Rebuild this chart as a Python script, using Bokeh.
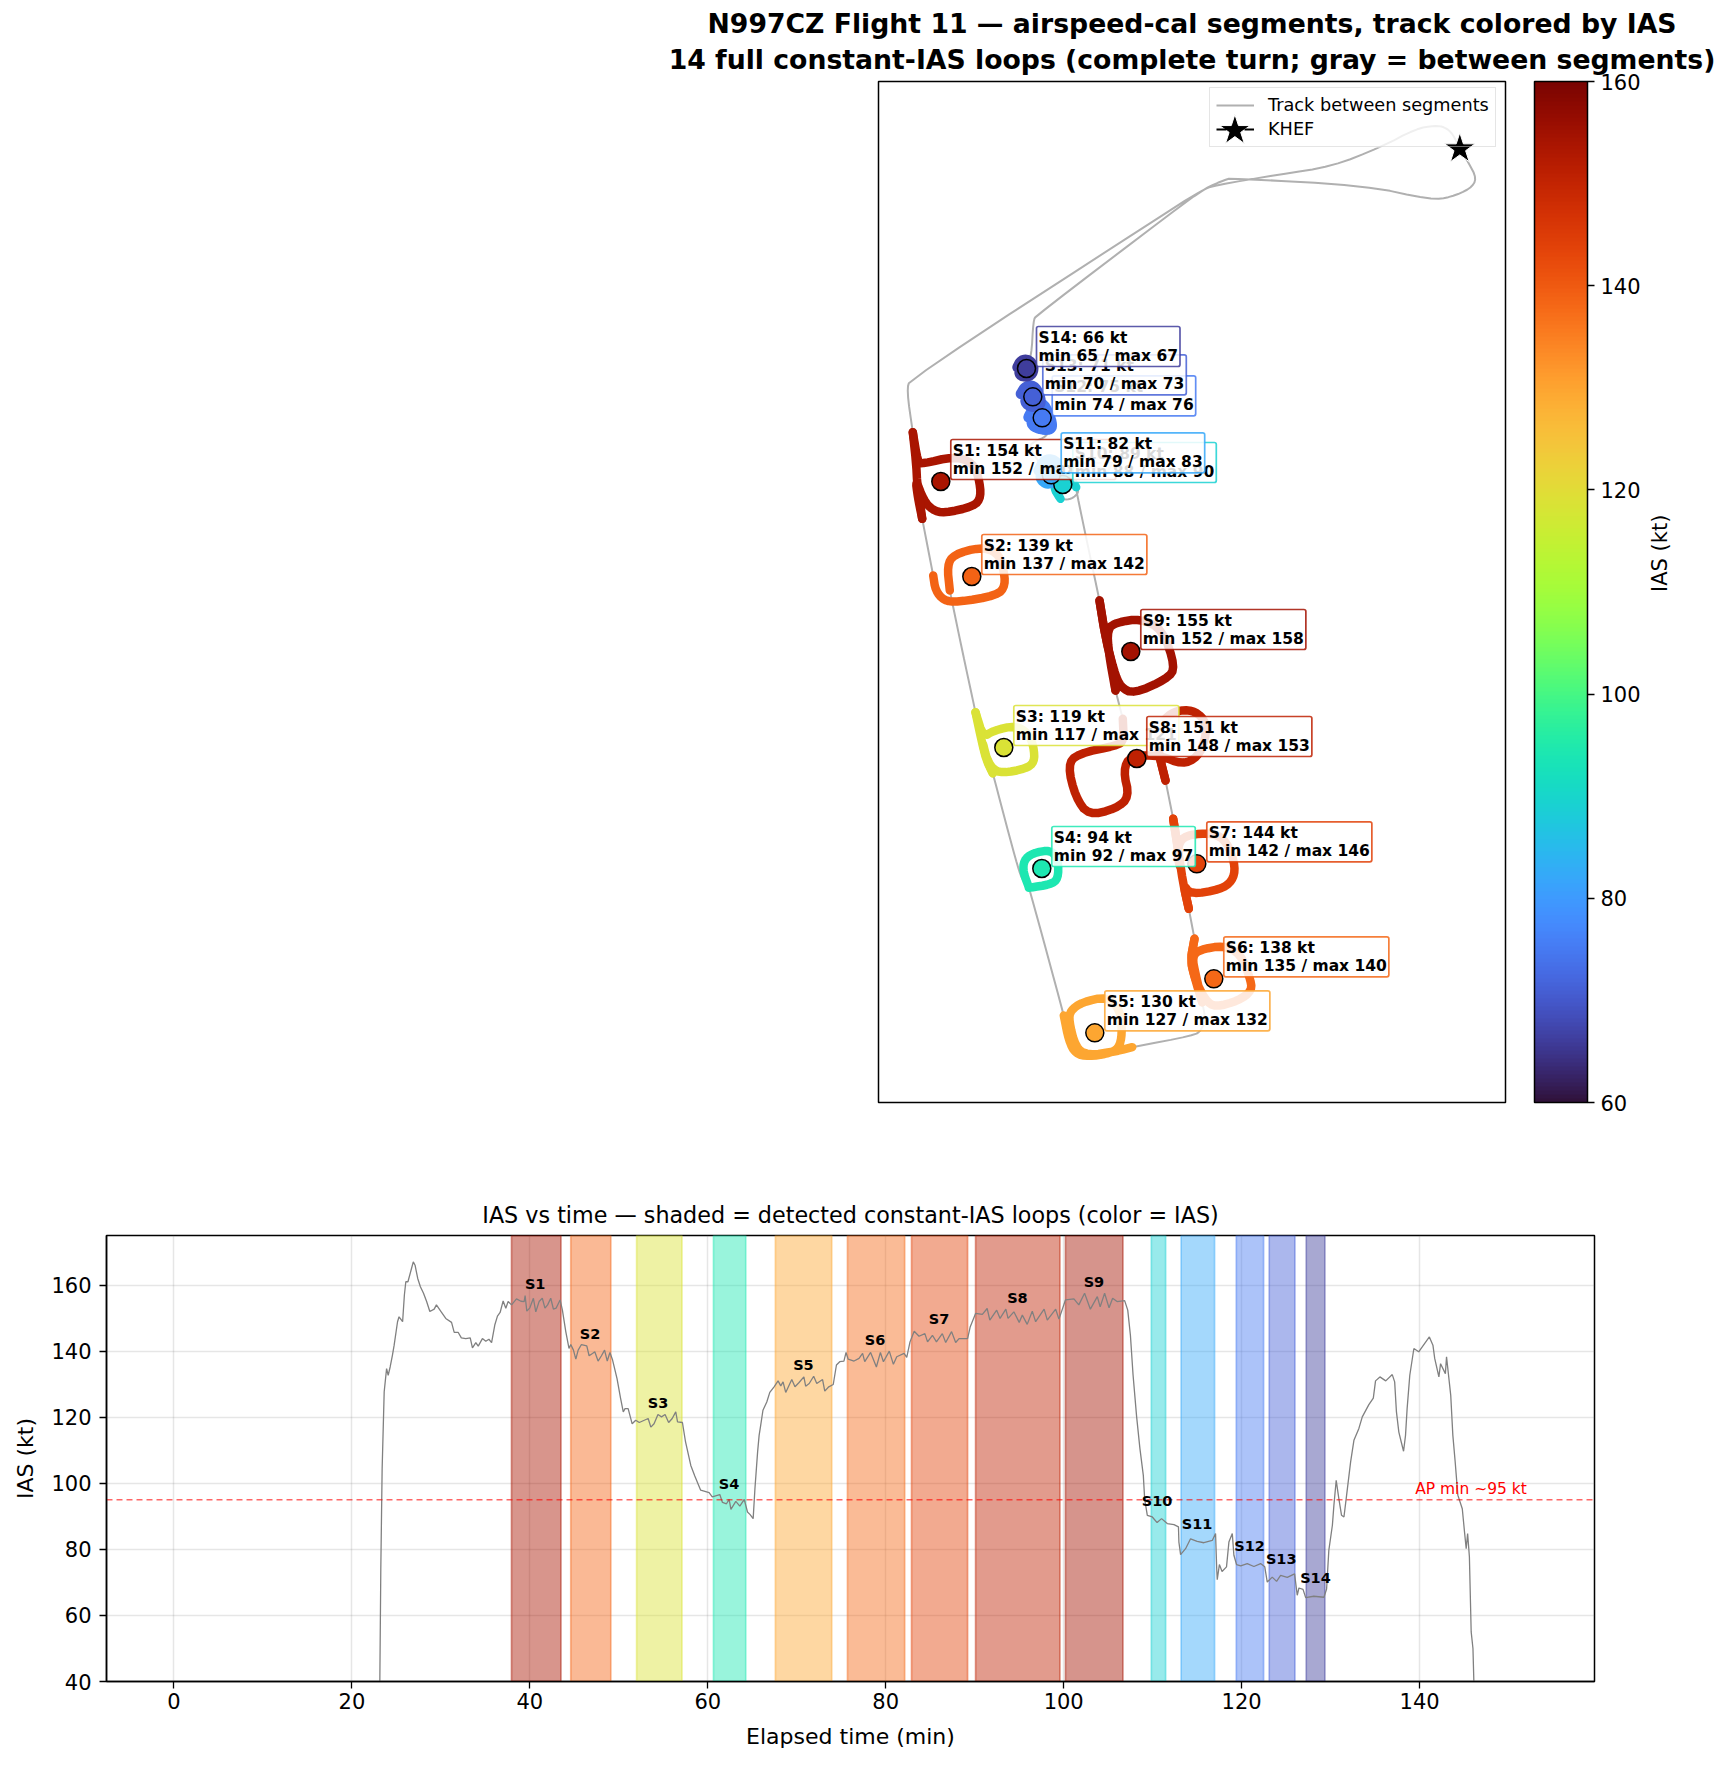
import math
from bokeh.plotting import figure
from bokeh.layouts import column
from bokeh.models import (Range1d, Label, Legend, LegendItem, ColorBar, LinearColorMapper,
                          FixedTicker, Title, LinearAxis)
from bokeh.core.properties import value
from bokeh.palettes import Turbo256
from bokeh.embed import file_html
from bokeh.resources import INLINE

FONT = "DejaVu Sans"

# ---- segment summary ----
seg_names = ["S1","S2","S3","S4","S5","S6","S7","S8","S9","S10","S11","S12","S13","S14"]
seg_mean = [154,139,119,94,130,138,144,151,155,89,82,75,71,66]
seg_min  = [152,137,117,92,127,135,142,148,152,88,79,74,70,65]
seg_max  = [157,142,121,97,132,140,146,153,158,90,83,76,73,67]
seg_start = [37.94,44.6,52.0,60.64,67.6,75.7,82.9,90.1,100.2,109.85,113.2,119.4,123.1,127.26]
seg_end   = [43.5,49.1,57.1,64.27,73.93,82.13,89.2,99.58,106.66,111.46,116.96,122.47,125.99,129.36]
seg_label_t = [40.6,46.77,54.4,62.4,70.75,78.8,86.0,94.8,103.4,110.5,115.0,120.9,124.45,128.3]
seg_label_kt = [158.5,143.3,122.6,97.9,133.9,141.5,148.0,154.4,159.0,92.8,86.0,79.2,75.2,69.6]
marker_x = [62.3,93.3,125.3,163.3,216.3,335.3,318.3,258.3,252.3,184.3,172.7,163.7,154.3,148.0]
marker_y = [621,526,355,234,69.7,123.7,238.7,344,451,618,627.7,684.7,705.7,734]

# ---- loop tracks (local x/y track coordinates) ----
s1 = [(34.3,670.3),(39.3,640.3),(43.7,638.7),(75.3,646),(93.7,640.3),(100.3,625.3),(102.7,605.3),(95.3,596),(65.3,589.3),(53.7,592.7),(45.3,602),(37,623.7),(39.3,605.3),(43.7,583.7)]
s2 = [(54.7,527),(57,512),(65.3,502),(78.7,500.3),(118.7,507),(127,517),(124.7,535.3),(118.7,550.3),(102,555.3),(75.3,548),(68.7,537),(71.3,512)]
s3 = [(97,390.3),(104.7,365.3),(115.3,372),(137,377),(150.3,368.7),(155.3,355.3),(156,340.3),(147,333.7),(123.7,329.3),(113.7,333.7),(107,347),(103.7,362),(108.7,342),(114.3,329.3)]
s4 = [(150.3,215.3),(144.7,230.3),(145.3,242),(153.7,249.3),(172.7,252.7),(179.7,242),(179.7,223.7),(172,218),(150.3,214.7)]
s5 = [(185.3,87),(190.3,62),(197,48.7),(210.3,46),(228.7,48.7),(240.3,53.7),(243.7,68.7),(242,92),(228.7,106),(203.7,100.3),(192,92),(190.3,82),(197,55.3),(208.7,47),(238.7,51.3),(253.7,55.3)]
s6 = [(323.7,100.3),(317,128.7),(313.7,145.3),(320.3,152.7),(345.3,157),(362,148.7),(371.3,125.3),(373.7,112),(360.3,102),(337,95.3),(327,102),(317,122),(312,142),(316,163.7)]
s7 = [(310.3,193.7),(304.7,218.7),(312,208),(342,213),(353.7,221.3),(357,235.3),(350.3,257),(338.7,268.7),(315.3,268.7),(302,263.7),(298.7,248.7),(302,232),(298.7,258.7),(294.7,283.7)]
s8 = [(287,322),(280.3,348.7),(278.7,372),(288.7,387),(302,392.7),(317,391.3),(327.7,380.3),(327,363.7),(319.3,345.3),(303.7,338),(282,347),(252,347),(244.7,332),(251,305.3),(237,293.7),(210.3,287),(197,305.3),(189.3,337),(198.7,348.7),(238.7,357),(245.3,362),(244.3,383.7)]
s9 = [(237,412),(230.3,448.7),(228.7,473.7),(238.7,480.3),(262,483.7),(283.7,473.7),(297,435.3),(288.7,423.7),(255.3,408.7),(242,415.3),(235.3,432),(227,465.3),(221,502)]
s10 = [(197.7,615.3),(190.3,627),(180.3,627),(174.7,615.3),(182,603.7)]
s11 = [(160.3,632),(166,642.7),(176,642.7),(182,633.7),(178,622.7),(168.7,618),(161.3,624.7),(165.3,633.7),(172,637),(176,630.3),(170.3,624.7),(168,630.3)]
s12 = [(150.3,685.3),(155.3,695.3),(163.7,700.3),(170.3,688.7),(173.7,677),(171.3,672.7),(160.3,673.7),(152,678.7),(157,688.7),(165.3,688.7),(167,680.3),(160.3,680.3)]
s13 = [(142.7,708.7),(147,716),(155.3,717),(161.3,707),(162,697),(153.7,695.3),(146,700.3),(150.3,708.7),(157,707),(153.7,701.3)]
s14 = [(139.3,735.3),(142.7,742),(150.3,742.7),(155.3,735.3),(152.7,727),(143.7,726),(140.3,730.3),(147,735.3)]
loops = [s1,s2,s3,s4,s5,s6,s7,s8,s9,s10,s11,s12,s13,s14]

# straight legs through the loops, by index into seg_names
spine_seg = [0, 2, 5, 6, 7, 8]
spine_paths = [
 [(34.3,670.3),(37.7,638.7),(38.7,618.7),(41.3,602),(43.7,583.7)],
 [(97,390.3),(103,362),(108,342),(114.3,329.3)],
 [(316,163.7),(312,142),(317,122),(323.7,100.3)],
 [(294.7,283.7),(300,250),(304.7,218.7),(310.3,193.7)],
 [(287,322),(280.3,348.7)],
 [(221,502),(227,465),(235,432),(237,412)],
]

# ---- gray track between segments ----
gray_pieces = [
 [(581.3,953.7),(574.3,968.7),(566.5,975.3),(556.7,977),(537.3,973.7),(502.3,955.3),(453.6,936),(401,928),(335,917),(323.3,912),(296,895.3),(31.5,723.7),(28.3,712),(34.3,670.3)],
 [(43.7,583.7),(54.7,527)],
 [(71.3,512),(73.7,500.3),(83.7,452),(97,390.3)],
 [(114.3,329.3),(132,262),(141.3,228.7),(145.3,221.3),(150.3,215.3)],
 [(150.3,214.7),(151.3,212),(168.7,148.7),(185.3,87)],
 [(253.7,55.3),(315.3,67),(322.7,72),(327,83.7),(323.7,100.3)],
 [(316,163.7),(310.3,193.7)],
 [(294.7,283.7),(287,322)],
 [(244.3,383.7),(237,412)],
 [(221,502),(198.7,607),(197.7,615.3)],
 [(182,603.7),(191,602.7),(199,608),(200,614),(192,622)],
 [(168,630.3),(150,655),(155.3,661),(167,665.3),(172,673.7)],
 [(147,735.3),(152.9,745.3),(154.8,782),(157.9,787),(296,892),(327.2,914.7),(346.6,922.7),(352.5,924.3),(486.7,917),(552.9,902.7),(572.3,905.3),(591.8,913.7),(598.4,923.7),(589.8,940.3),(581.3,953.7)],
]
khef_x, khef_y = [581.3], [953.7]
legend_star_x, legend_star_y = [356.4], [972]

# ---- IAS vs time ----
elapsed_min = [23.14,23.25,23.4,23.63,23.9,24.08,24.3,24.56,24.75,25.13,25.3,25.7,25.9,26.06,26.3,26.7,26.9,27.1,27.4,27.7,28.05,28.4,28.76,29.25,29.5,30,30.55,31.2,31.5,31.94,32.3,32.8,33.3,33.55,33.93,34.2,34.67,35.05,35.4,35.7,36.06,36.36,36.66,37,37.3,37.56,37.94,38.5,39,39.36,39.47,39.66,40,40.4,40.67,41.04,41.4,41.7,42,42.35,42.65,42.95,43.4,43.66,44.04,44.4,44.6,44.9,45.17,45.43,45.8,46.4,46.66,47.04,47.3,47.67,48.05,48.4,48.7,49,49.3,49.8,50.2,50.5,50.7,51.05,51.5,51.9,52.3,53.3,53.6,53.96,54.4,54.8,55.2,55.6,56,56.4,56.6,57.15,57.5,58.09,58.54,59.2,60.15,60.5,61.35,61.65,62.1,62.4,62.6,63.15,63.6,64.1,64.46,64.76,65.1,65.3,65.6,65.77,65.95,66.2,66.63,66.97,67.45,67.9,68.2,68.46,68.76,69.44,69.8,70.26,70.8,71,71.4,71.9,72.25,72.9,73.15,73.6,74.1,74.46,74.83,75.3,75.54,75.77,76.44,77,77.4,77.64,78.3,78.95,79.4,79.74,80.4,80.86,81.24,82.06,82.36,82.73,83.2,83.74,84.4,84.7,85.25,85.7,86.36,86.74,87.4,87.86,88.24,89.2,89.5,90.1,90.86,91.4,91.7,92.47,92.85,93.5,93.75,94.4,95,95.35,95.9,96.47,96.85,97.8,98.16,99.1,99.47,100.2,101.15,101.7,102.35,103,103.78,104.1,104.6,105.1,105.5,106,106.85,107.2,107.5,107.8,108.2,108.57,108.95,109.1,109.4,109.96,110.5,111,111.64,112.4,112.9,112.95,113.14,113.7,114.26,115,115.76,116.7,117.07,117.2,117.26,117.5,117.8,118.3,118.57,118.95,119.13,119.43,119.9,120.63,121.38,122.13,122.6,122.88,123.44,123.93,124.38,125.13,125.95,126.25,126.44,126.9,127.2,128.1,129.25,129.55,129.8,130.2,130.37,130.63,130.93,131.23,131.5,131.8,132.25,132.62,133.18,133.56,134.3,134.8,135.05,135.54,136.2,136.93,137.2,137.4,137.67,137.94,138.2,138.42,138.6,138.9,139.36,139.9,140.56,141.1,141.5,141.7,142.17,142.36,142.9,143.03,143.5,143.74,144,144.3,144.8,145.05,145.24,145.4,145.6,145.8,146,146.1]
ias_kt = [40,74,104.4,127.7,134.7,132.7,135.2,138.8,141.8,148.9,150.4,148.9,157,161,161,165,167,166,162,159.5,157.5,155,152,152.7,154,152,149.9,148.7,145.7,145.7,144,143.8,144,141,142.6,141.5,143.8,143,143.6,142.6,147.9,150.6,151.7,155.2,153,155,154,155.8,155.1,155,156.8,152.1,153.1,156,151.9,155,156,153,154,156,152.7,153,155.5,152.4,145.9,140.8,142,140.3,137.6,140.3,142,141.6,138.6,139.3,139.8,137,138.6,140.3,137,139.6,137.3,131.7,125.7,121.6,122.6,122.6,118,119.1,118.4,119.6,117,118,120.8,120.1,120.8,118.4,119.6,121.6,118.6,118.4,112.5,105.4,102.2,97.9,97.2,95.9,96.6,94.2,93.8,95.1,92.1,94.5,93.1,95.1,91.3,90.5,89.3,98.4,109.5,114.5,117.6,122.1,124.6,127.5,129.2,131,129.5,130.7,127.5,131.4,129.2,130.5,132.2,129.4,130.2,132.4,130.2,131.4,127.9,129.2,129.9,135.8,136.8,137,139.6,137.6,137,137.8,139.3,136.8,139.6,135.2,139.6,136.8,140,136,138.3,139.3,138.1,142.8,146,144.5,145.3,142.8,144.8,142.8,145.3,142.6,145.9,142.6,143.8,143.8,147.4,151.4,151.1,152.9,149.4,152.4,149.9,152.7,149.9,151.9,148.7,150.9,148.1,152.1,148.9,152.7,149.4,152.7,149.7,155.5,155.8,154,157.5,152.7,156.5,153.4,157.5,153.1,156,155,155.3,152.4,144.8,132.7,120.1,110.5,102.4,95.3,90.3,89.8,88.1,89.3,87.8,87.5,86.8,82.2,78.4,80.2,83.2,82.4,82,82.7,84.8,74.1,70.8,75.4,73.3,74.7,82.2,84.8,78.2,75.4,75,75.7,74.8,75.7,74.7,70.1,71.6,70.3,72.1,71.5,72.6,66.1,68.3,67.9,65.4,65.8,65.5,68,79.7,87.3,93.3,100.9,95.3,90.3,89.8,96.4,106.5,113,116.6,120.1,123.8,125.8,131,132.2,131,132.9,130.7,121.6,115.5,112.5,109.7,114.5,122.6,132.7,140.8,139.8,142.3,144.3,141.8,137.8,132.2,136.2,133.2,138.3,126.7,114.5,106.5,96.4,92.3,85.3,80.2,84.8,77.7,55,50,40]

x_ticks = [0,20,40,60,80,100,120,140]
y_ticks = [40,60,80,100,120,140,160]
cb_ticks = [60,80,100,120,140,160]

def turbo(v):
    i = int(round((v - 60) / 100 * 255))
    return Turbo256[max(0, min(255, i))]

def rounded(path, n=2):
    """Round the corners of a drawn path (corner cutting), keeping its ends."""
    pts = list(path)
    for _ in range(n):
        out = [pts[0]]
        for a, b in zip(pts[:-1], pts[1:]):
            out.append((0.75*a[0]+0.25*b[0], 0.75*a[1]+0.25*b[1]))
            out.append((0.25*a[0]+0.75*b[0], 0.25*a[1]+0.75*b[1]))
        out.append(pts[-1])
        pts = out
    return pts

seg_color = [turbo(v) for v in seg_mean]

# ==== top figure ====
p1 = figure(width=1722, height=1162, output_backend="svg", toolbar_location=None,
            x_range=Range1d(0, 627), y_range=Range1d(0, 1021),
            frame_width=627, frame_height=1021, frame_align=False,
            min_border_left=878, min_border_right=217, min_border_top=81, min_border_bottom=60,
            x_axis_type=None, y_axis_type=None)
p1.grid.visible = False
p1.outline_line_color = "black"
p1.outline_line_width = 1.5
p1.add_layout(Title(text="14 full constant-IAS loops (complete turn; gray = between segments)",
                    align="center", text_font=FONT, text_font_size="26.7px", text_font_style="bold",
                    text_color="black", standoff=14), "above")
p1.add_layout(Title(text="N997CZ Flight 11 \u2014 airspeed-cal segments, track colored by IAS",
                    align="center", text_font=FONT, text_font_size="26.7px", text_font_style="bold",
                    text_color="black", standoff=-8), "above")

gx, gy = [], []
for piece in gray_pieces:
    piece = rounded(piece, 2)
    gx += [q[0] for q in piece] + [float("nan")]
    gy += [q[1] for q in piece] + [float("nan")]
gray = p1.line(gx, gy, line_color="#b0b0b0", line_width=2)

for k, (path, col) in enumerate(zip(loops, seg_color)):
    path = rounded(path, 2)
    p1.line([q[0] for q in path], [q[1] for q in path], line_color=col, line_width=(8.5 if k < 10 else 11),
            line_cap="round", line_join="round")
for k, path in zip(spine_seg, spine_paths):
    path = rounded(path, 1)
    p1.line([q[0] for q in path], [q[1] for q in path], line_color=seg_color[k], line_width=8.5,
            line_cap="round", line_join="round")

p1.scatter(marker_x, marker_y, size=18, marker="circle", fill_color=seg_color,
           line_color="black", line_width=1.5)

# translucent legend backing under the handle star; the legend itself has no fill
p1.quad(left=[331], right=[618], bottom=[955], top=[1014], fill_color="white", fill_alpha=0.8, line_color=None)
p1.scatter(legend_star_x, legend_star_y, marker="star", size=32, fill_color="black", line_color="white", line_width=1)
p1.scatter(khef_x, khef_y, marker="star", size=32, fill_color="black", line_color="white", line_width=1, level="overlay")
star_line = p1.line(khef_x, khef_y, line_color="black", line_width=2, line_dash="10 18")

legend = Legend(items=[LegendItem(label="Track between segments", renderers=[gray]),
                       LegendItem(label="KHEF", renderers=[star_line])],
                location=(331, 955), label_text_font=FONT, label_text_font_size="17.7px", label_text_color="black",
                glyph_width=38, glyph_height=22, padding=6, margin=0, spacing=2, label_standoff=14,
                background_fill_alpha=0, border_line_color="#cccccc", border_line_width=1.5)
p1.add_layout(legend)

for i, n in enumerate(seg_names):
    txt = f"{n}: {seg_mean[i]} kt\nmin {seg_min[i]} / max {seg_max[i]}"
    p1.add_layout(Label(x=marker_x[i], y=marker_y[i], x_offset=10, y_offset=2, text=txt,
                        text_font=FONT, text_font_size="15.5px", text_font_style="bold",
                        text_color="black", text_align="left", text_baseline="bottom",
                        text_line_height=1.0,
                        background_fill_color="white", background_fill_alpha=0.85,
                        border_line_color=seg_color[i], border_line_alpha=0.85, border_line_width=1.7,
                        padding=2, border_radius=2))

mapper = LinearColorMapper(palette=Turbo256, low=60, high=160)
cb = ColorBar(color_mapper=mapper, ticker=FixedTicker(ticks=cb_ticks), width=53, height=1021,
              padding=0, margin=0, location=(29, 0), bar_line_color="black", bar_line_width=1.5,
              major_tick_line_color="black", major_tick_line_width=1.3, major_tick_in=0, major_tick_out=7,
              major_label_text_font=FONT, major_label_text_font_size="21px", major_label_text_color="black",
              label_standoff=6, minor_tick_line_color=None)
p1.add_layout(cb, "right")
cb_axis = LinearAxis(ticker=FixedTicker(ticks=[]), axis_line_color=None, major_tick_line_color=None,
                     minor_tick_line_color=None, axis_label="IAS (kt)", axis_label_standoff=16,
                     axis_label_text_font=FONT, axis_label_text_font_size="21px",
                     axis_label_text_font_style="normal", axis_label_text_color="black",
                     axis_label_text_align="center", axis_label_text_baseline="middle",
                     axis_label_orientation=math.pi/2)
p1.add_layout(cb_axis, "right")

# ==== bottom figure ====
p2 = figure(width=1722, height=597, output_backend="svg", toolbar_location=None,
            x_range=Range1d(-7.58, 159.66), y_range=Range1d(40, 175),
            frame_width=1488, frame_height=446, frame_align=False,
            min_border_left=106, min_border_right=128, min_border_top=73, min_border_bottom=78)
p2.outline_line_color = "black"
p2.outline_line_width = 1.5
p2.add_layout(Title(text="IAS vs time \u2014 shaded = detected constant-IAS loops (color = IAS)",
                    align="center", text_font=FONT, text_font_size="22.25px", text_font_style="normal",
                    text_color="black", standoff=16), "above")
p2.xaxis.ticker = FixedTicker(ticks=x_ticks)
p2.yaxis.ticker = FixedTicker(ticks=y_ticks)
p2.xaxis.axis_label = "Elapsed time (min)"
p2.yaxis.axis_label = "IAS (kt)"
for ax in (p2.xaxis[0], p2.yaxis[0]):
    ax.axis_label_text_font = FONT
    ax.axis_label_text_font_size = "22px"
    ax.axis_label_text_font_style = "normal"
    ax.axis_label_text_color = "black"
    ax.major_label_text_font = FONT
    ax.major_label_text_font_size = "21px"
    ax.major_label_text_color = "black"
    ax.major_tick_in = 0
    ax.major_tick_out = 7
    ax.major_tick_line_width = 1.3
    ax.major_tick_line_color = "black"
    ax.minor_tick_line_color = None
    ax.axis_line_color = "black"
    ax.axis_line_width = 1.5
p2.xaxis[0].major_label_standoff = 4
p2.yaxis[0].major_label_standoff = 8
p2.xaxis[0].axis_label_standoff = 12
p2.yaxis[0].axis_label_standoff = 10
p2.grid.grid_line_color = "#808080"
p2.grid.grid_line_alpha = 0.2
p2.grid.grid_line_width = 1.5

p2.quad(left=seg_start, right=seg_end, bottom=40, top=175, fill_color=seg_color, fill_alpha=0.45,
        line_color=seg_color, line_alpha=0.45, line_width=1.7)
p2.line(elapsed_min, ias_kt, line_color="#808080", line_width=1.3)
p2.line([-7.58, 159.66], [95, 95], line_color="red", line_alpha=0.6, line_width=1.6, line_dash="6 4")
p2.text(seg_label_t, seg_label_kt, text=seg_names, text_align="center", text_baseline="alphabetic",
        y_offset=-6, text_font=value(FONT), text_font_size="14.5px", text_font_style="bold", text_color="black")
p2.add_layout(Label(x=139.5, y=97, y_offset=4, text="AP min ~95 kt", text_font=FONT, text_font_size="15.5px",
                    text_color="red", text_align="left", text_baseline="alphabetic"))

page = column(p1, p2, spacing=0)
open("out.html", "w").write(file_html(page, INLINE))
